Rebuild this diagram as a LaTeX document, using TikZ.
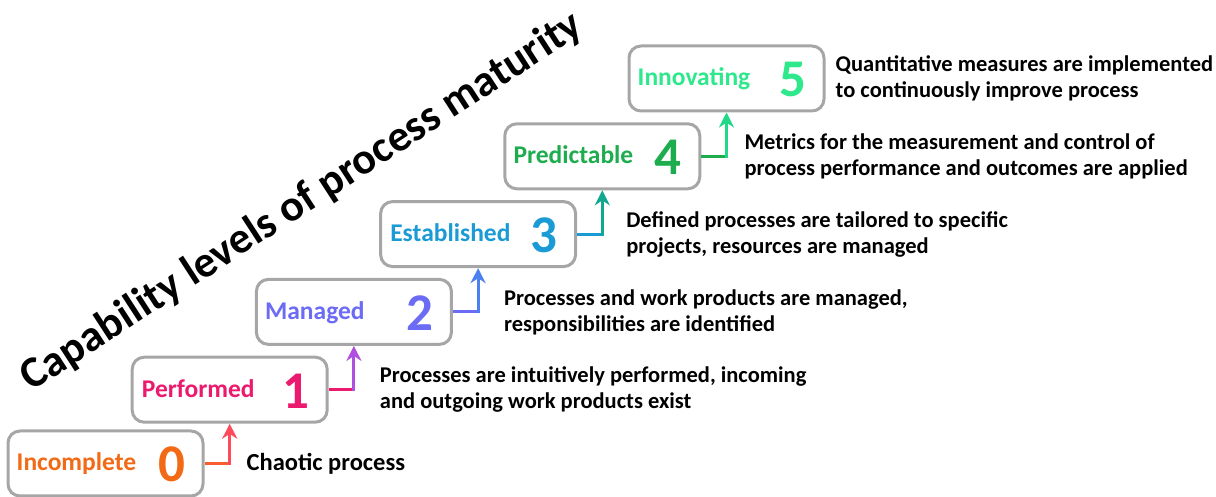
\documentclass[tikz,border=0pt]{standalone}
\usepackage{fontspec}
\setmainfont{Carlito}
\usetikzlibrary{arrows.meta, positioning}
\definecolor{lvGrey}{HTML}{A6A6A6}
\definecolor{lvOrange}{HTML}{F26A16}
\definecolor{lvPink}{HTML}{EC1A6E}
\definecolor{lvViolet}{HTML}{6B6BF5}
\definecolor{lvCyan}{HTML}{1A9BD5}
\definecolor{lvGreen}{HTML}{1EAD4E}
\definecolor{lvMint}{HTML}{2EE88C}
\definecolor{tpRed}{HTML}{FF4A5A}
\definecolor{tpPurple}{HTML}{B050E0}
\definecolor{tpBlue}{HTML}{4A80F0}
\definecolor{tpTeal}{HTML}{10A890}
\definecolor{tpMint}{HTML}{20D888}
\tikzset{
  levelbox/.style = {draw=lvGrey, line width=3pt, rounded corners=12pt, fill=white,
                     minimum width=195pt, minimum height=65pt, inner sep=0pt},
  lvlname/.style  = {anchor=base west, inner sep=0pt,
                     font=\fontsize{25.5}{29}\selectfont\bfseries},
  lvlnum/.style   = {anchor=base, inner sep=0pt,
                     font=\fontsize{53}{60}\selectfont\bfseries},
  desc/.style     = {anchor=west, align=left, inner sep=0pt,
                     font=\fontsize{22.5}{26}\selectfont\bfseries},
  heading/.style  = {rotate=33, inner sep=0pt,
                     font=\fontsize{44}{50}\selectfont\bfseries},
  steplink/.style = {line width=3pt},
  steptip/.style  = {line width=3pt, -{Stealth[length=15pt, width=15pt]}},
}
\begin{document}
\begin{tikzpicture}[x=1pt, y=1pt]
  \useasboundingbox (0,0) rectangle (1216,497);
  % title
  \node[heading] (head) at (302,295) {Capability levels of process maturity};
  % level boxes
  \node[levelbox] (L0) at (105.5,33.5) {};
  \node[levelbox] (L1) at (229.7,107.3) {};
  \node[levelbox] (L2) at (353.9,185.1) {};
  \node[levelbox] (L3) at (478.1,262.9) {};
  \node[levelbox] (L4) at (602.3,340.7) {};
  \node[levelbox] (L5) at (726.5,418.5) {};
  % names and numbers
  \node[lvlname, lvOrange] (n0) at ([xshift=10pt, yshift=-7.5pt]L0.west) {Incomplete};
  \node[lvlnum,  lvOrange] (v0) at ([xshift=-33pt, yshift=-18.5pt]L0.east) {0};
  \node[lvlname, lvPink]   (n1) at ([xshift=11pt, yshift=-7.5pt]L1.west) {Performed};
  \node[lvlnum,  lvPink]   (v1) at ([xshift=-33pt, yshift=-18.5pt]L1.east) {1};
  \node[lvlname, lvViolet] (n2) at ([xshift=10pt, yshift=-7.5pt]L2.west) {Managed};
  \node[lvlnum,  lvViolet] (v2) at ([xshift=-33pt, yshift=-18.5pt]L2.east) {2};
  \node[lvlname, lvCyan]   (n3) at ([xshift=11pt, yshift=-7.5pt]L3.west) {Established};
  \node[lvlnum,  lvCyan]   (v3) at ([xshift=-33pt, yshift=-18.5pt]L3.east) {3};
  \node[lvlname, lvGreen]  (n4) at ([xshift=10pt, yshift=-7.5pt]L4.west) {Predictable};
  \node[lvlnum,  lvGreen]  (v4) at ([xshift=-33pt, yshift=-18.5pt]L4.east) {4};
  \node[lvlname, lvMint]   (n5) at ([xshift=10pt, yshift=-7.5pt]L5.west) {Innovating};
  \node[lvlnum,  lvMint]   (v5) at ([xshift=-33pt, yshift=-18.5pt]L5.east) {5};
  % links between levels
  \coordinate (k1) at (L0.east -| L1.south);
  \coordinate (k2) at (L1.east -| L2.south);
  \coordinate (k3) at (L2.east -| L3.south);
  \coordinate (k4) at (L3.east -| L4.south);
  \coordinate (k5) at (L4.east -| L5.south);
  \draw[steplink, lvOrange!60!tpRed] (L0.east) -- (k1);
  \draw[steptip, tpRed] ([yshift=-1.5pt]k1) -- (L1.south);
  \draw[steplink, lvPink] (L1.east) -- (k2);
  \draw[steptip, tpPurple] ([yshift=-1.5pt]k2) -- (L2.south);
  \draw[steplink, lvViolet] (L2.east) -- (k3);
  \draw[steptip, tpBlue] ([yshift=-1.5pt]k3) -- (L3.south);
  \draw[steplink, lvCyan] (L3.east) -- (k4);
  \draw[steptip, tpTeal] ([yshift=-1.5pt]k4) -- (L4.south);
  \draw[steplink, lvGreen] (L4.east) -- (k5);
  \draw[steptip, tpMint] ([yshift=-1.5pt]k5) -- (L5.south);
  % descriptions
  \node[desc, font=\fontsize{24.5}{28}\selectfont\bfseries] (d0) at ([xshift=42pt]L0.east) {Chaotic process};
  \node[desc] (d1) at ([xshift=51pt]L1.east) {Processes are intuitively performed, incoming\\
                                               and outgoing work products exist};
  \node[desc] (d2) at ([xshift=51pt]L2.east) {Processes and work products are managed,\\
                                               responsibilities are identified};
  \node[desc] (d3) at ([xshift=49pt]L3.east) {Defined processes are tailored to specific\\
                                               projects, resources are managed};
  \node[desc] (d4) at ([xshift=43pt]L4.east) {Metrics for the measurement and control of\\
                                               process performance and outcomes are applied};
  \node[desc] (d5) at ([xshift=10pt]L5.east) {Quantitative measures are implemented\\
                                               to continuously improve process};
\end{tikzpicture}
\end{document}
